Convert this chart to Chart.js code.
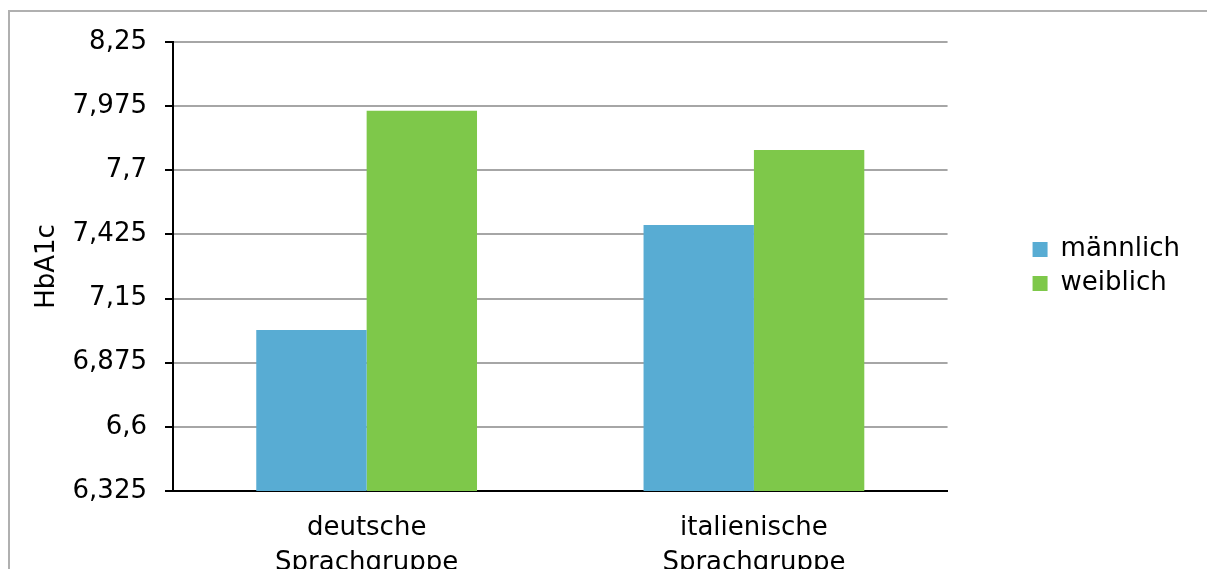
<!DOCTYPE html>
<html>
<head>
<meta charset="utf-8">
<script src="https://cdn.jsdelivr.net/npm/chart.js@4.4.1/dist/chart.umd.min.js"></script>
<style>
  html, body { margin: 0; padding: 0; background: #fff; overflow: hidden; }
  #wrap { position: relative; width: 1207px; height: 569px; }
  #frame { position: absolute; left: 8px; top: 10px; width: 1300px; height: 700px;
           border: 2px solid #b0b0b0; box-sizing: border-box; }
  canvas { position: absolute; left: 0; top: 0; }
</style>
</head>
<body>
<div id="wrap">
  <div id="frame"></div>
  <canvas id="chart" width="1207" height="569"></canvas>
</div>
<script>
// categories et series
const categories = [['deutsche', 'Sprachgruppe'], ['italienische', 'Sprachgruppe']];
const maennlich = [7.015, 7.465];
const weiblich = [7.955, 7.787];
const yTicks = [6.325, 6.6, 6.875, 7.15, 7.425, 7.7, 7.975, 8.25];

const fontFam = '"DejaVu Sans", Verdana, sans-serif';

const ctx = document.getElementById('chart').getContext('2d');
new Chart(ctx, {
  type: 'bar',
  data: {
    labels: categories,
    datasets: [
      { label: 'männlich', data: maennlich, backgroundColor: '#58acd3' },
      { label: 'weiblich', data: weiblich, backgroundColor: '#7ec84a' }
    ]
  },
  options: {
    responsive: false,
    animation: false,
    layout: { padding: { left: 0, top: 42, right: 17, bottom: 0 } },
    datasets: { bar: { barPercentage: 1, categoryPercentage: 0.57 } },
    plugins: {
      tooltip: { enabled: false },
      legend: {
        position: 'right',
        fullSize: false,
        labels: {
          color: '#000',
          boxWidth: 15,
          boxHeight: 15,
          padding: 8,
          font: { family: fontFam, size: 26 }
        }
      }
    },
    scales: {
      x: {
        grid: { display: false },
        border: { color: '#000', width: 2 },
        ticks: { color: '#000', padding: 12, maxRotation: 0,
                 font: { family: fontFam, size: 26, lineHeight: 1.33 } },
        afterFit: s => { s.height = 78; }
      },
      y: {
        min: 6.325,
        max: 8.25,
        afterBuildTicks: s => { s.ticks = yTicks.map(v => ({ value: v })); },
        grid: { color: '#a6a6a6', lineWidth: 2, tickColor: '#000', tickLength: 8, tickWidth: 2 },
        border: { color: '#000', width: 2 },
        ticks: {
          color: '#000',
          padding: 18,
          font: { family: fontFam, size: 26 },
          callback: v => String(Number(v.toFixed(3))).replace('.', ',')
        },
        title: { display: true, text: 'HbA1c', color: '#000', padding: { top: 32, bottom: 0 },
                 font: { family: fontFam, size: 26 } },
        afterFit: s => { s.width = 173; }
      },
      // axe vide pour laisser un espace avant la legende
      gap: {
        type: 'linear',
        position: 'right',
        grid: { display: false },
        border: { display: false },
        ticks: { display: false },
        afterFit: s => { s.width = 77; }
      }
    }
  }
});
</script>
</body>
</html>
